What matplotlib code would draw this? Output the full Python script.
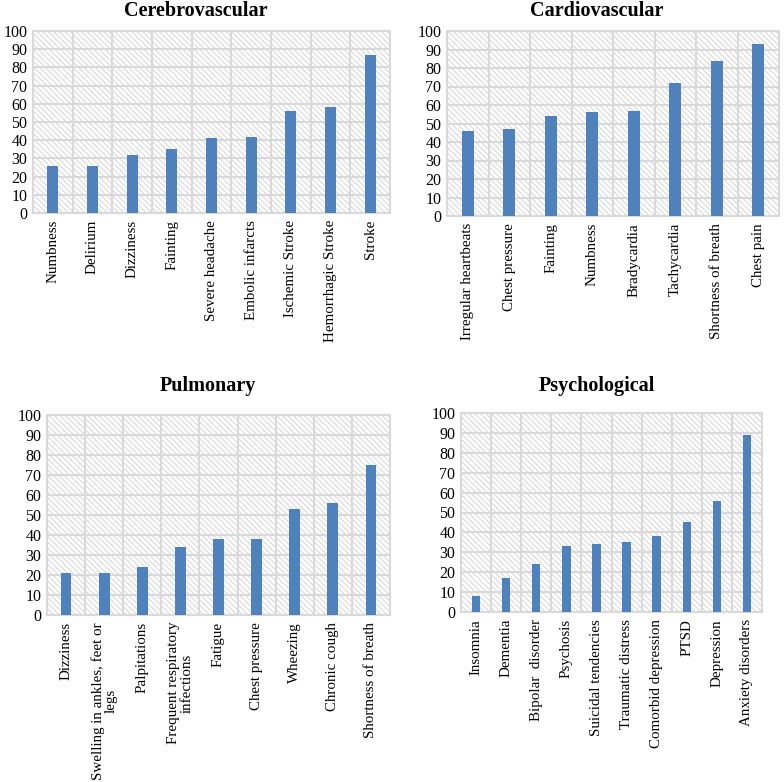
import matplotlib.pyplot as plt
from matplotlib.patches import Rectangle

plt.rcParams['font.family'] = ['Liberation Serif', 'DejaVu Serif']
plt.rcParams['hatch.color'] = '#d4d4d4'
plt.rcParams['hatch.linewidth'] = 0.8

cerebro_labels = ["Numbness", "Delirium", "Dizziness", "Fainting", "Severe headache",
                  "Embolic infarcts", "Ischemic Stroke", "Hemorrhagic Stroke", "Stroke"]
cerebro_values = [26, 26, 32, 35, 41, 42, 56, 58, 87]

cardio_labels = ["Irregular heartbeats", "Chest pressure", "Fainting", "Numbness",
                 "Bradycardia", "Tachycardia", "Shortness of breath", "Chest pain"]
cardio_values = [46, 47, 54, 56, 57, 72, 84, 93]

pulm_labels = ["Dizziness", "Swelling in ankles, feet or\nlegs", "Palpitations",
               "Frequent respiratory\ninfections", "Fatigue", "Chest pressure",
               "Wheezing", "Chronic cough", "Shortness of breath"]
pulm_values = [21, 21, 24, 34, 38, 38, 53, 56, 75]

psych_labels = ["Insomnia", "Dementia", "Bipolar  disorder", "Psychosis",
                "Suicidal tendencies", "Traumatic distress", "Comorbid depression",
                "PTSD", "Depression", "Anxiety disorders"]
psych_values = [8, 17, 24, 33, 34, 35, 38, 45, 56, 89]

W, H = 784, 782
fig = plt.figure(figsize=(W / 100, H / 100), dpi=100)

GRID = '#d9d9d9'
BAR = '#4f81bd'


def panel(px, title, title_xy, labels, values):
    left, top, right, bottom = px
    ax = fig.add_axes([left / W, 1 - bottom / H, (right - left) / W, (bottom - top) / H])
    n = len(labels)
    ax.add_patch(Rectangle((0, 0), 1, 1, transform=ax.transAxes, facecolor='white',
                           edgecolor=GRID, hatch='\\\\\\\\\\\\', lw=0, zorder=0))
    x = range(n)
    ax.bar(x, values, width=0.28, color=BAR, zorder=3)
    ax.set_xlim(-0.5, n - 0.5)
    ax.set_ylim(0, 100)
    ax.set_yticks(range(0, 101, 10))
    ax.set_xticks(list(x))
    ax.set_xticklabels(labels, rotation=90, fontsize=10.8, va='top', ha='center',
                       multialignment='center', linespacing=1.0)
    ax.set_xticks([i + 0.5 for i in range(n - 1)], minor=True)
    ax.tick_params(axis='y', labelsize=11.5, length=0, pad=4)
    ax.tick_params(axis='x', length=0, pad=5)
    ax.tick_params(which='minor', length=0)
    ax.grid(True, axis='y', color=GRID, lw=1.5, zorder=1)
    ax.grid(True, axis='x', which='minor', color=GRID, lw=1.5, zorder=1)
    ax.set_axisbelow(True)
    for s in ax.spines.values():
        s.set_color(GRID)
        s.set_linewidth(1.5)
    fig.text(title_xy[0] / W, 1 - title_xy[1] / H, title, fontsize=14.5,
             fontweight='bold', ha='center', va='center')
    return ax


panel((33, 31, 390, 213), "Cerebrovascular", (196, 11), cerebro_labels, cerebro_values)
panel((447, 31, 779, 216), "Cardiovascular", (597, 11), cardio_labels, cardio_values)
panel((47, 415, 390, 615), "Pulmonary", (208, 386), pulm_labels, pulm_values)
panel((461, 413, 762, 612), "Psychological", (597, 386), psych_labels, psych_values)

fig.savefig("out.png", dpi=100)
